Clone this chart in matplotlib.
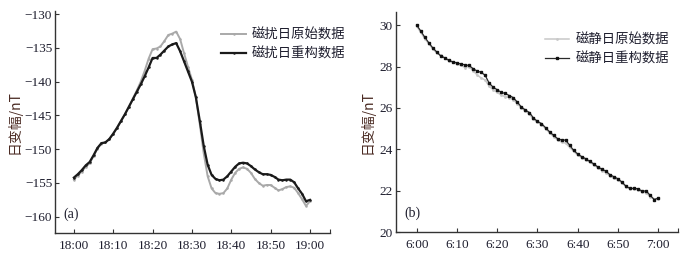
import matplotlib
matplotlib.use("Agg")
import matplotlib.pyplot as plt
import numpy as np

plt.rcParams['font.family'] = ['Liberation Serif', 'Noto Sans CJK SC', 'DejaVu Sans']
plt.rcParams['axes.unicode_minus'] = True

# ---------------- data ----------------
minutes = list(range(61))

storm_tick_labels = ["18:00", "18:10", "18:20", "18:30", "18:40", "18:50", "19:00"]
quiet_tick_labels = ["6:00", "6:10", "6:20", "6:30", "6:40", "6:50", "7:00"]
tick_minutes = [0, 10, 20, 30, 40, 50, 60]

storm_original = [
    -154.5, -153.9, -153.3, -152.6, -152.1, -151.0, -149.9, -149.2, -149.0, -148.5,
    -147.7, -146.8, -145.8, -144.8, -143.7, -142.5, -141.3, -140.0, -138.4, -136.6,
    -135.2, -135.1, -134.8, -134.0, -133.1, -132.9, -132.6, -133.7, -135.8, -137.8,
    -139.7, -142.3, -146.3, -150.6, -154.0, -155.8, -156.5, -156.6, -156.5, -155.8,
    -154.5, -153.5, -152.9, -152.7, -152.9, -153.5, -154.4, -155.0, -155.4, -155.3,
    -155.3, -155.7, -156.1, -155.9, -155.6, -155.5, -155.7, -156.5, -157.4, -158.4,
    -157.7]
storm_recon = [
    -154.2, -153.7, -153.1, -152.4, -151.9, -150.9, -149.8, -149.1, -149.0, -148.5,
    -147.7, -146.8, -145.8, -144.8, -143.7, -142.6, -141.5, -140.4, -139.2, -137.9,
    -136.5, -136.5, -136.0, -135.4, -134.8, -134.5, -134.3, -135.5, -137.0, -138.5,
    -140.0, -142.3, -145.8, -149.5, -152.3, -153.8, -154.4, -154.6, -154.5, -154.0,
    -153.3, -152.6, -152.1, -152.0, -152.1, -152.5, -153.0, -153.4, -153.7, -153.7,
    -153.8, -154.1, -154.5, -154.6, -154.5, -154.5, -154.9, -155.8, -156.6, -157.7,
    -157.5]

quiet_original = [
    29.95, 29.65, 29.35, 29.10, 28.85, 28.65, 28.55, 28.40, 28.28, 28.20,
    28.12, 28.05, 27.95, 28.00, 27.80, 27.60, 27.45, 27.35, 27.05, 26.88,
    26.75, 26.62, 26.55, 26.50, 26.40, 26.20, 26.00, 25.85, 25.70, 25.45,
    25.30, 25.20, 25.00, 24.80, 24.62, 24.45, 24.35, 24.30, 24.10, 23.90,
    23.72, 23.60, 23.50, 23.38, 23.25, 23.10, 22.98, 22.88, 22.72, 22.60,
    22.52, 22.38, 22.20, 22.10, 22.08, 22.05, 21.95, 21.90, 21.72, 21.60,
    21.62]
quiet_recon = [
    30.00, 29.72, 29.42, 29.15, 28.90, 28.70, 28.50, 28.42, 28.30, 28.22,
    28.18, 28.12, 28.08, 28.05, 27.90, 27.78, 27.72, 27.58, 27.20, 27.00,
    26.88, 26.75, 26.70, 26.60, 26.50, 26.28, 26.05, 25.90, 25.78, 25.52,
    25.35, 25.25, 25.05, 24.85, 24.68, 24.52, 24.45, 24.45, 24.20, 23.95,
    23.78, 23.65, 23.55, 23.42, 23.30, 23.15, 23.05, 22.95, 22.78, 22.68,
    22.58, 22.42, 22.22, 22.12, 22.12, 22.10, 21.98, 22.00, 21.78, 21.58,
    21.65]

storm_labels = ["磁扰日原始数据", "磁扰日重构数据"]
quiet_labels = ["磁静日原始数据", "磁静日重构数据"]
ylabel = "日变幅/nT"

# ---------------- figure ----------------
W, H = 691, 259
fig = plt.figure(figsize=(W / 100, H / 100), dpi=100)

grey = "#a9a9a9"
black = "#1a1a1a"
tick_col = "#1e1e2e"
label_col = "#4a2a22"
cjk = ['Noto Sans CJK SC', 'DejaVu Sans']


def style_axes(ax):
    for s in ["top", "right"]:
        ax.spines[s].set_visible(False)
    for s in ["left", "bottom"]:
        ax.spines[s].set_color("#333333")
        ax.spines[s].set_linewidth(1.0)
    ax.tick_params(axis="both", which="both", direction="in", length=3,
                   width=0.8, colors="#333333", labelcolor=tick_col, labelsize=9.5)
    ax.tick_params(axis="x", pad=5)
    ax.tick_params(axis="y", pad=2)


axL = fig.add_axes([55 / W, 1 - 233 / H, 275 / W, 222 / H])
axR = fig.add_axes([395.7 / W, 1 - 232.3 / H, 282.3 / W, 220.5 / H])

axL.plot(minutes, storm_original, color=grey, lw=1.4, marker="o", ms=0.8,
         mec=grey, mfc=grey, label=storm_labels[0], zorder=2)
axL.plot(minutes, storm_recon, color=black, lw=1.6, marker="o", ms=0.8,
         mec=black, mfc=black, label=storm_labels[1], zorder=3)
axL.set_xlim(-4.8, 65.1)
axL.set_ylim(-162.4, -129.55)
axL.set_yticks([-130, -135, -140, -145, -150, -155, -160])
axL.set_xticks(tick_minutes)
axL.set_xticklabels(storm_tick_labels)
axL.set_xticks([65], minor=True)
style_axes(axL)
axL.set_ylabel(ylabel, family=cjk, fontsize=10, color=label_col, labelpad=2)
axL.text(0.03, 0.085, "(a)", transform=axL.transAxes, fontsize=10,
         color=tick_col, ha="left", va="center")
legL = axL.legend(loc="upper left", bbox_to_anchor=(0.605, 0.925), frameon=False,
                  prop={"family": cjk, "size": 9.6}, handlelength=1.85,
                  handletextpad=0.45, labelspacing=0.38, borderpad=0, borderaxespad=0)
for t in legL.get_texts():
    t.set_color(tick_col)

axR.plot(minutes, quiet_original, color="#c8c8c8", lw=1.1, marker="o", ms=1.0,
         mec="#c8c8c8", mfc="#c8c8c8", label=quiet_labels[0], zorder=2)
axR.plot(minutes, quiet_recon, color="#2a2a2a", lw=0.9, marker="s", ms=1.5,
         mec="#111111", mfc="#111111", label=quiet_labels[1], zorder=3)
axR.set_xlim(-5.2, 64.9)
axR.set_ylim(20, 30.64)
axR.set_yticks([20, 22, 24, 26, 28, 30])
axR.set_xticks(tick_minutes)
axR.set_xticklabels(quiet_tick_labels)
axR.set_xticks([64.9], minor=True)
style_axes(axR)
axR.set_ylabel(ylabel, family=cjk, fontsize=10, color=label_col, labelpad=4)
axR.text(0.03, 0.085, "(b)", transform=axR.transAxes, fontsize=10,
         color=tick_col, ha="left", va="center")
legR = axR.legend(loc="upper left", bbox_to_anchor=(0.528, 0.905), frameon=False,
                  prop={"family": cjk, "size": 9.6}, handlelength=1.85,
                  handletextpad=0.45, labelspacing=0.38, borderpad=0, borderaxespad=0)
for t in legR.get_texts():
    t.set_color(tick_col)

fig.savefig("out.png", dpi=100)
